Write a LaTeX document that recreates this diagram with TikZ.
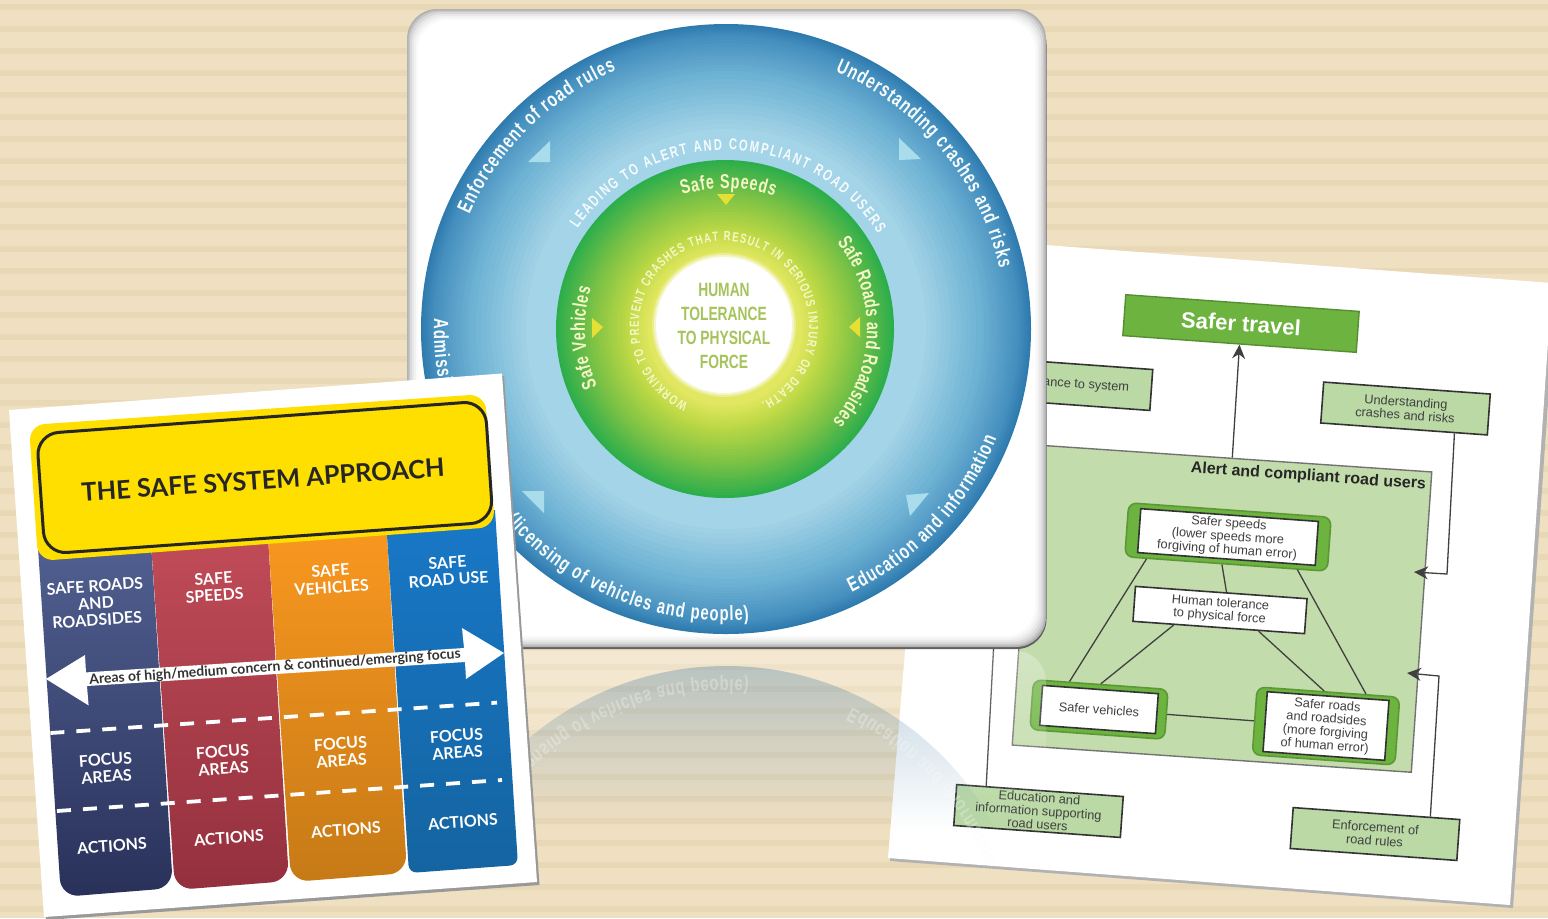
\documentclass[tikz,border=0pt]{standalone}
\usepackage{fontspec}
\usepackage{xcolor}
\setmainfont{Liberation Sans}
\newfontfamily\narrowfont[FakeStretch=.72]{Liberation Sans}
\newfontfamily\latofont{Lato}
\usetikzlibrary{calc,arrows.meta,decorations.text,fadings}
\definecolor{sandbase}{HTML}{F0E0C2}
\definecolor{sandline}{HTML}{E9D8B5}
\definecolor{ringA}{HTML}{A9D7E9}
\definecolor{ringB}{HTML}{6FB3D4}
\definecolor{ringC}{HTML}{4690BF}
\definecolor{ringD}{HTML}{2E7AAE}
\definecolor{leafA}{HTML}{E4E862}
\definecolor{leafB}{HTML}{BCD845}
\definecolor{leafC}{HTML}{7CC245}
\definecolor{leafD}{HTML}{2DAE4C}
\definecolor{coretext}{HTML}{A6C35C}
\definecolor{paleblue}{HTML}{A9DDEB}
\definecolor{yellowtri}{HTML}{E6E035}
\definecolor{signyellow}{HTML}{FFDF00}
\definecolor{boxgreen}{HTML}{BAD9A5}
\definecolor{roomgreen}{HTML}{C3DCAC}
\definecolor{bargreen}{HTML}{6CB33F}
\tikzfading[name=mirrorfade,top color=transparent!72,bottom color=transparent!100]
\newcommand{\gradedisc}[2]{%
	\foreach \rout/\rin/\cout/\cin in {#2}
		\foreach \k in {0,...,11} {
			\pgfmathsetmacro\rr{\rout-(\rout-\rin)*\k/12}
			\pgfmathsetmacro\pc{100*\k/12}
			\fill[\cin!\pc!\cout] #1 circle (\rr);
		}
}
\newcommand{\ringlabel}[5]{\path[decorate,decoration={text along path,text align={fit to path},text={|#4|#5}}] (#2:#1) arc[start angle=#2,end angle=#3,radius=#1];}
\newcommand{\ringfont}{\narrowfont\bfseries\fontsize{10.3}{12}\selectfont\color{white!92!ringA}}
\newcommand{\leadfont}{\narrowfont\bfseries\fontsize{7.8}{8}\selectfont\color{white!90!ringA}}
\newcommand{\leaffont}{\narrowfont\bfseries\fontsize{10}{12}\selectfont\color{white!65!leafA}}
\newcommand{\workfont}{\narrowfont\bfseries\fontsize{6.6}{7}\selectfont\color{white!65!leafA}}
\tikzset{
	stripe/.style={fill=sandline},
	softpanel/.style={rounded corners=15pt},
	colhead/.style={text=white,align=center,rotate=4,inner sep=0pt,font=\latofont\bfseries\fontsize{8}{8.5}\selectfont},
	handbox/.style={draw=black!80,line width=.8pt,rotate=-4.1,inner sep=0pt,align=center,text=black!75,font=\fontsize{6.4}{6.7}\selectfont},
	smallbox/.style={handbox,fill=boxgreen,minimum width=83.5pt,minimum height=20.5pt},
	whitebox/.style={handbox,fill=white},
	thickbox/.style={draw=bargreen!85!black,fill=bargreen,line width=.8pt,rotate=-4.1,rounded corners=4pt,inner sep=0pt},
	lnk/.style={draw=black!75,line width=.65pt},
	arr/.style={lnk,-{Stealth[length=7pt,width=6.5pt]}},
	dashrow/.style={white,line width=1.9pt,dash pattern=on 7pt off 6pt}
}
\begin{document}
\begin{tikzpicture}[x=.5pt,y=-.5pt]
	\useasboundingbox (0,0) rectangle (1548,918);
	\clip (0,0) rectangle (1548,918);
	\fill[sandbase] (0,0) rectangle (1548,918);
	\foreach \yy in {4,26,...,906}
		\fill[stripe] (0,\yy) rectangle (1548,\yy+5.5);

	\fill[black!30] (941,241) -- (1556,287) -- (1513,908) -- (890,861) -- cycle;
	\fill[white] (939,237) -- (1552,283) -- (1510,905) -- (888,858) -- cycle;

	\node[draw=black!55,fill=roomgreen,line width=.7pt,rotate=-3.9,minimum width=200pt,minimum height=150.5pt,inner sep=0pt] (room) at (1222,608.5) {};
	\node[anchor=base east,inner sep=0pt,rotate=-4,text=black!85,font=\bfseries\fontsize{8}{9}\selectfont] (roomtitle) at (1426,489) {Alert and compliant road users};

	\node[draw=bargreen!80!black,fill=bargreen,line width=.7pt,rotate=-4.1,minimum width=117pt,minimum height=20.5pt,inner sep=0pt,text=white,font=\bfseries\fontsize{11}{12}\selectfont] (travel) at (1241,323.5) {Safer travel};
	\node[smallbox] (adm) at (1068,384) {Admittance to system};
	\node[smallbox] (und) at (1405.5,408.5) {Understanding\\crashes and risks};
	\node[smallbox] (edu) at (1038.5,811) {Education and\\information supporting\\road users};
	\node[smallbox] (enf) at (1375,834) {Enforcement of\\road rules};

	\node[thickbox,minimum width=101.5pt,minimum height=27pt] (spd) at (1228,537) {};
	\node[whitebox,minimum width=89pt,minimum height=22pt] (spdtxt) at (spd) {Safer speeds\\(lower speeds more\\forgiving of human error)};
	\node[whitebox,minimum width=86pt,minimum height=17.5pt] (hum) at (1220,610) {Human tolerance\\to physical force};
	\node[thickbox,minimum width=67.5pt,minimum height=25pt] (veh) at (1099,709.5) {};
	\node[whitebox,minimum width=58pt,minimum height=20pt] (vehtxt) at (veh) {Safer vehicles};
	\node[thickbox,minimum width=71.5pt,minimum height=34pt] (rds) at (1326,726) {};
	\node[whitebox,minimum width=61pt,minimum height=30pt] (rdstxt) at (rds) {Safer roads\\and roadsides\\(more forgiving\\of human error)};

	\draw[lnk] ($(spd.south west)!.48!(spd.south east)$) -- ($(hum.north west)!.53!(hum.north east)$);
	\draw[lnk] ($(spd.south west)!.11!(spd.south east)$) -- ($(veh.north west)!.27!(veh.north east)$);
	\draw[lnk] ($(spd.south west)!.85!(spd.south east)$) -- ($(rds.north west)!.76!(rds.north east)$);
	\draw[lnk] ($(hum.south west)!.24!(hum.south east)$) -- ($(veh.north west)!.5!(veh.north east)$);
	\draw[lnk] ($(hum.south west)!.73!(hum.south east)$) -- ($(rds.north west)!.47!(rds.north east)$);
	\draw[lnk] (veh.east) -- (rds.west);

	\coordinate (undknee) at (1447,574);
	\coordinate (undtip) at (1414,572);
	\coordinate (enfknee) at (1439,676);
	\coordinate (enftip) at (1407,673);
	\coordinate (eduend) at (994,640);
	\draw[arr] (room.north) -- (travel.south);
	\draw[arr] ($(und.south west)!.8!(und.south east)$) -- (undknee) -- (undtip);
	\draw[arr] ($(enf.north west)!.82!(enf.north east)$) -- (enfknee) -- (enftip);
	\draw[lnk] ($(edu.north west)!.18!(edu.north east)$) -- (eduend);

	\fill[white,softpanel,path fading=mirrorfade,fit fading=true] (407,651) rectangle (1046,830);
	\begin{scope}
		\clip (726,971) circle (305);
		\fill[ringD!85!black,path fading=mirrorfade,fit fading=true] (407,666) rectangle (1046,830);
	\end{scope}
	\begin{scope}[transform canvas={yshift=-650pt,yscale=-1},opacity=.3,shift={(726,329)},x=.5pt,y=.5pt]
		\ringlabel{292}{221}{274.5}{\ringfont}{(licensing of vehicles and people)}
		\ringlabel{292}{-64.5}{-22}{\ringfont}{Education and information}
	\end{scope}

	\fill[black!62,softpanel] (407,14) rectangle (1046.5,649);
	\foreach \inset/\tone in {0/30,1.5/22,3/15,5/9,7/5,9/2,11/0}
		\fill[black!\tone,rounded corners=15pt] (407+\inset,9+\inset) rectangle (1046-\inset,647-\inset);

	\gradedisc{(726,329)}{305/292/ringD/ringC,292/255/ringC/ringB,255/195/ringB/ringA}
	\gradedisc{(725,329)}{169/135/leafD/leafC,135/100/leafC/leafB,100/75/leafB/leafA}
	\fill[white,opacity=.3] (724,325) circle (72);
	\fill[white,opacity=.5] (724,325) circle (70);
	\fill[white] (724,325) circle (68);

	\fill[paleblue] (550,141) -- (550,162) -- (528,162) -- cycle;
	\fill[paleblue] (899,138) -- (899,160) -- (921,159) -- cycle;
	\fill[paleblue] (906,495) -- (929,493) -- (910,516) -- cycle;
	\fill[paleblue] (522,491) -- (544,491) -- (544,513) -- cycle;
	\fill[yellowtri] (717,194) -- (735,194) -- (726,205) -- cycle;
	\fill[yellowtri] (592,318) -- (603,327) -- (592,338) -- cycle;
	\fill[yellowtri] (860,317) -- (860,337) -- (849,327) -- cycle;

	\node[inner sep=0pt,align=center,text=coretext,font=\narrowfont\bfseries\fontsize{9.6}{11.9}\selectfont] (core) at (724,326) {HUMAN\\TOLERANCE\\TO PHYSICAL\\FORCE};

	\begin{scope}[shift={(726,329)},x=.5pt,y=.5pt]
		\ringlabel{281}{156}{113}{\ringfont}{Enforcement of road rules}
		\ringlabel{280}{67}{12.5}{\ringfont}{Understanding crashes and risks}
		\ringlabel{292}{-64.5}{-22}{\ringfont}{Education and information}
		\ringlabel{292}{178}{211}{\ringfont}{Admission to system}
		\ringlabel{292}{221}{274.5}{\ringfont}{(licensing of vehicles and people)}
		\ringlabel{179}{146}{32}{\leadfont}{LEADING TO ALERT AND COMPLIANT ROAD USERS}
		\ringlabel{141}{108}{70}{\leaffont}{Safe Speeds}
		\ringlabel{141}{38}{-41}{\leaffont}{Safe Roads and Roadsides}
		\ringlabel{141}{204}{163}{\leaffont}{Safe Vehicles}
	\end{scope}
	\begin{scope}[shift={(724,326)},x=.5pt,y=.5pt]
		\ringlabel{85}{245}{-64}{\workfont}{WORKING TO PREVENT CRASHES THAT RESULT IN SERIOUS INJURY OR DEATH.}
	\end{scope}

	\fill[black!40] (11,413) -- (504,376) -- (539.5,885) -- (46,920) -- cycle;
	\fill[white] (9,410) -- (502,373.5) -- (537,882) -- (44,917) -- cycle;

	\shade[top color={rgb,255:red,82;green,97;blue,146},middle color={rgb,255:red,66;green,80;blue,126},bottom color={rgb,255:red,41;green,49;blue,90}]
		(37.5,540) -- (150.5,535) [rounded corners=9pt] -- (173,888) -- (61,897) [sharp corners] -- cycle;
	\shade[top color={rgb,255:red,193;green,76;blue,88},middle color={rgb,255:red,178;green,66;blue,78},bottom color={rgb,255:red,148;green,48;blue,62}]
		(150.5,535) -- (267.6,530) [rounded corners=9pt] -- (289,881) -- (175,890) [sharp corners] -- cycle;
	\shade[top color={rgb,255:red,250;green,152;blue,32},middle color={rgb,255:red,240;green,143;blue,30},bottom color={rgb,255:red,198;green,122;blue,22}]
		(267.6,530) -- (386,520) [rounded corners=9pt] -- (407,873) -- (291,882) [sharp corners] -- cycle;
	\shade[top color={rgb,255:red,24;green,120;blue,200},middle color={rgb,255:red,22;green,118;blue,192},bottom color={rgb,255:red,20;green,100;blue,160}]
		(386,520) -- (495,510) [rounded corners=4pt] -- (518,865) -- (409,873) [sharp corners] -- cycle;

	\fill[signyellow,rounded corners=8pt] (29,425) -- (485,394) -- (495,527) -- (38,561) -- cycle;
	\draw[black!85,line width=1.5pt,rounded corners=11pt,fill=signyellow] (36.5,434) -- (485,401) -- (493,522) -- (45,554) -- cycle;
	\node[rotate=4,inner sep=0pt,text=black!85,font=\latofont\bfseries\fontsize{12.7}{14}\selectfont] (signtitle) at (263,480) {THE SAFE SYSTEM APPROACH};

	\node[colhead] (headA) at (96,603) {SAFE ROADS\\AND\\ROADSIDES};
	\node[colhead] (headB) at (214,587) {SAFE\\SPEEDS};
	\node[colhead] (headC) at (331,579) {SAFE\\VEHICLES};
	\node[colhead] (headD) at (448,571) {SAFE\\ROAD USE};
	\node[colhead] (focusA) at (106,768) {FOCUS\\AREAS};
	\node[colhead] (focusB) at (223,760) {FOCUS\\AREAS};
	\node[colhead] (focusC) at (341,752) {FOCUS\\AREAS};
	\node[colhead] (focusD) at (457,744) {FOCUS\\AREAS};
	\node[colhead] (actA) at (112,846) {ACTIONS};
	\node[colhead] (actB) at (229,838) {ACTIONS};
	\node[colhead] (actC) at (346,830) {ACTIONS};
	\node[colhead] (actD) at (463,822) {ACTIONS};

	\fill[white] (46,679) -- (85,655) -- (86,672.4) -- (464,648) -- (462,628) -- (504,653) -- (466,679) -- (465,662) -- (87,686) -- (88.6,705.4) -- cycle;
	\node[rotate=4,inner sep=0pt,text=black!80,font=\latofont\bfseries\fontsize{7}{8}\selectfont] (focusbar) at (275,667.5) {Areas of high/medium concern \& continued/emerging focus};

	\draw[dashrow] (50.4,733) -- (497,702.6);
	\draw[dashrow] (57,811) -- (502,780);
\end{tikzpicture}
\end{document}
